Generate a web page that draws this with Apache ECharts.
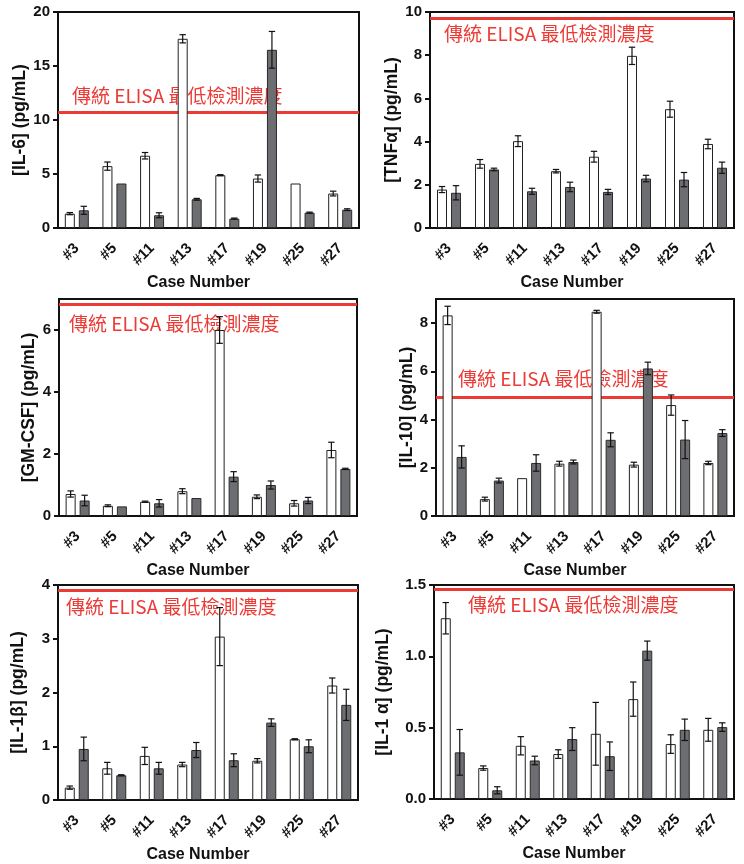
<!DOCTYPE html>
<html>
<head>
<meta charset="utf-8">
<script src="https://cdn.jsdelivr.net/npm/echarts@6/dist/echarts.min.js"></script>
<style>
  html, body { margin: 0; padding: 0; background: #fff; }
  #chart { width: 744px; height: 864px; }
</style>
</head>
<body>
<div id="chart"></div>
<script>
// Sample IDs shared by every panel
const cases = ['#3', '#5', '#11', '#13', '#17', '#19', '#25', '#27'];
const limitText = '傳統 ELISA 最低檢測濃度';

// IL-6 (pg/mL): open bars, filled bars, error half-widths, ELISA limit
const il6Open       = [1.33, 5.73, 6.69, 17.52, 4.89, 4.58, 4.12, 3.19];
const il6OpenErr    = [0.10, 0.38, 0.30, 0.38, 0.05, 0.33, 0, 0.22];
const il6Filled     = [1.64, 4.12, 1.18, 2.66, 0.87, 16.5, 1.42, 1.70];
const il6FilledErr  = [0.37, 0, 0.23, 0.08, 0.05, 1.70, 0.05, 0.08];
const il6Limit = 10.72;

// TNFα (pg/mL)
const tnfOpen       = [1.78, 2.97, 4.02, 2.63, 3.30, 7.97, 5.50, 3.89];
const tnfOpenErr    = [0.14, 0.20, 0.25, 0.08, 0.25, 0.40, 0.37, 0.22];
const tnfFilled     = [1.63, 2.71, 1.70, 1.90, 1.67, 2.29, 2.24, 2.79];
const tnfFilledErr  = [0.33, 0.06, 0.14, 0.22, 0.12, 0.15, 0.33, 0.26];
const tnfLimit = 9.69;

// GM-CSF (pg/mL)
const gmOpen        = [0.71, 0.33, 0.46, 0.80, 6.00, 0.62, 0.41, 2.13];
const gmOpenErr     = [0.10, 0.03, 0.02, 0.08, 0.43, 0.06, 0.09, 0.25];
const gmFilled      = [0.50, 0.31, 0.41, 0.58, 1.27, 1.00, 0.50, 1.52];
const gmFilledErr   = [0.17, 0, 0.12, 0, 0.16, 0.13, 0.10, 0.02];
const gmLimit = 6.82;

// IL-10 (pg/mL)
const il10Open      = [8.32, 0.70, 1.57, 2.17, 8.47, 2.13, 4.60, 2.20];
const il10OpenErr   = [0.38, 0.08, 0, 0.10, 0.06, 0.10, 0.42, 0.07];
const il10Filled    = [2.45, 1.47, 2.20, 2.24, 3.16, 6.12, 3.17, 3.44];
const il10FilledErr = [0.46, 0.10, 0.34, 0.08, 0.29, 0.26, 0.79, 0.14];
const il10Limit = 4.94;

// IL-1β (pg/mL)
const il1bOpen      = [0.23, 0.59, 0.82, 0.66, 3.04, 0.73, 1.13, 2.13];
const il1bOpenErr   = [0.03, 0.11, 0.16, 0.04, 0.54, 0.04, 0.01, 0.14];
const il1bFilled    = [0.95, 0.46, 0.59, 0.93, 0.74, 1.44, 1.00, 1.77];
const il1bFilledErr = [0.22, 0.01, 0.11, 0.14, 0.12, 0.07, 0.12, 0.29];
const il1bLimit = 3.91;

// IL-1α (pg/mL)
const il1aOpen      = [1.267, 0.217, 0.373, 0.315, 0.457, 0.70, 0.385, 0.485];
const il1aOpenErr   = [0.11, 0.015, 0.064, 0.03, 0.22, 0.12, 0.065, 0.08];
const il1aFilled    = [0.327, 0.061, 0.27, 0.42, 0.30, 1.04, 0.485, 0.504];
const il1aFilledErr = [0.16, 0.025, 0.03, 0.08, 0.10, 0.067, 0.075, 0.03];
const il1aLimit = 1.465;

// Panel layout and axis settings
const panels = [
  { title: '[IL-6] (pg/mL)', open: il6Open, openErr: il6OpenErr, filled: il6Filled, filledErr: il6FilledErr, limit: il6Limit,
    max: 20, interval: 5, grid: { left: 58, top: 12, width: 301, height: 216 }, nameGap: 26,
    labelPos: 'insideStartTop', labelDist: [14, 6.5] },
  { title: '[TNFα] (pg/mL)', open: tnfOpen, openErr: tnfOpenErr, filled: tnfFilled, filledErr: tnfFilledErr, limit: tnfLimit,
    max: 10, interval: 2, grid: { left: 430, top: 12, width: 304, height: 216 }, nameGap: 23,
    labelPos: 'insideStartBottom', labelDist: [14, 5.5] },
  { title: '[GM-CSF] (pg/mL)', open: gmOpen, openErr: gmOpenErr, filled: gmFilled, filledErr: gmFilledErr, limit: gmLimit,
    max: 7, interval: 2, grid: { left: 59, top: 299, width: 298, height: 217 }, nameGap: 21,
    labelPos: 'insideStartBottom', labelDist: [10, 9.5] },
  { title: '[IL-10] (pg/mL)', open: il10Open, openErr: il10OpenErr, filled: il10Filled, filledErr: il10FilledErr, limit: il10Limit,
    max: 9, interval: 2, grid: { left: 436, top: 299, width: 298, height: 217 }, nameGap: 19,
    labelPos: 'insideStartTop', labelDist: [22, 8.5] },
  { title: '[IL-1β] (pg/mL)', open: il1bOpen, openErr: il1bOpenErr, filled: il1bFilled, filledErr: il1bFilledErr, limit: il1bLimit,
    max: 4, interval: 1, grid: { left: 58, top: 585, width: 300, height: 215 }, nameGap: 31,
    labelPos: 'insideStartBottom', labelDist: [8, 7.5] },
  { title: '[IL-1 α] (pg/mL)', open: il1aOpen, openErr: il1aOpenErr, filled: il1aFilled, filledErr: il1aFilledErr, limit: il1aLimit,
    max: 1.5, interval: 0.5, grid: { left: 434, top: 585, width: 300, height: 214 }, nameGap: 42, decimals: 1,
    labelPos: 'insideStartBottom', labelDist: [34, 6.5] }
];

const AXIS_FONT = '"Liberation Sans", Arial, sans-serif';
const INK = '#111';
const RED = '#ec3a35';
const BAR_W = 10;
const BAR_GAP = 4;
const HALF_STEP = (BAR_W + BAR_GAP) / 2;

// Vertical error bar with caps, drawn beside the matching bar
function errorBars(idx, means, errs, side) {
  return {
    type: 'custom',
    xAxisIndex: idx,
    yAxisIndex: idx,
    z: 5,
    silent: true,
    encode: { x: 0, y: 1 },
    data: means.map((m, i) => [i, m, errs[i]]),
    renderItem(params, api) {
      const i = api.value(0), m = api.value(1), e = api.value(2);
      if (!e) return null;
      const hi = api.coord([i, m + e]);
      const lo = api.coord([i, m - e]);
      const x = hi[0] + side * HALF_STEP;
      const cap = 3.2;
      const st = { stroke: INK, lineWidth: 1.2 };
      return {
        type: 'group',
        children: [
          { type: 'line', shape: { x1: x, y1: hi[1], x2: x, y2: lo[1] }, style: st },
          { type: 'line', shape: { x1: x - cap, y1: hi[1], x2: x + cap, y2: hi[1] }, style: st },
          { type: 'line', shape: { x1: x - cap, y1: lo[1], x2: x + cap, y2: lo[1] }, style: st }
        ]
      };
    }
  };
}

const grids = [], xAxes = [], yAxes = [], series = [];

panels.forEach((p, idx) => {
  grids.push(Object.assign({
    show: true, borderColor: INK, borderWidth: 2, backgroundColor: 'transparent', containLabel: false
  }, p.grid));

  xAxes.push({
    type: 'category', gridIndex: idx, data: cases,
    name: 'Case Number', nameLocation: 'middle', nameGap: 47,
    nameTextStyle: { fontFamily: AXIS_FONT, fontWeight: 'bold', fontSize: 16, color: INK, padding: [0, 20, 0, 0] },
    axisLine: { lineStyle: { color: INK, width: 2 } },
    axisTick: { alignWithLabel: true, length: 6, lineStyle: { color: INK, width: 2 } },
    axisLabel: { rotate: 45, margin: 18, fontFamily: AXIS_FONT, fontWeight: 'bold', fontSize: 15, color: INK },
    splitLine: { show: false }
  });

  const ticks = [];
  for (let v = 0; v <= p.max + 1e-9; v += p.interval) ticks.push(+v.toFixed(3));

  yAxes.push({
    type: 'value', gridIndex: idx, min: 0, max: p.max, interval: p.interval,
    name: p.title, nameLocation: 'middle', nameGap: p.nameGap, nameRotate: 90,
    nameTextStyle: { fontFamily: AXIS_FONT, fontWeight: 'bold', fontSize: 17.5, color: INK },
    axisLine: { show: true, lineStyle: { color: INK, width: 2 } },
    axisTick: { show: true, length: 5, lineStyle: { color: INK, width: 2 }, customValues: ticks },
    axisLabel: {
      margin: 8, fontFamily: AXIS_FONT, fontWeight: 'bold', fontSize: 15, color: INK, customValues: ticks,
      formatter: v => p.decimals ? v.toFixed(p.decimals) : String(v)
    },
    splitLine: { show: false }
  });

  series.push({
    type: 'bar', xAxisIndex: idx, yAxisIndex: idx, data: p.open, z: 3,
    barWidth: BAR_W, barGap: (BAR_GAP / BAR_W * 100) + '%',
    itemStyle: { color: '#ffffff', borderColor: '#222', borderWidth: 1 },
    silent: true
  });
  series.push({
    type: 'bar', xAxisIndex: idx, yAxisIndex: idx, data: p.filled, z: 3,
    barWidth: BAR_W, barGap: (BAR_GAP / BAR_W * 100) + '%',
    itemStyle: { color: '#6d6e72', borderColor: '#2a2a2a', borderWidth: 1 },
    silent: true,
    // detection limit line sits underneath the bars
    markLine: {
      silent: true, symbol: 'none', animation: false, z: 1,
      lineStyle: { color: RED, width: 3, type: 'solid' },
      label: {
        show: true, formatter: limitText, position: p.labelPos, distance: p.labelDist,
        color: RED, fontSize: 19, fontFamily: '"Noto Sans CJK TC", "Noto Sans", sans-serif'
      },
      data: [{ yAxis: p.limit }]
    }
  });
  series.push(errorBars(idx, p.open, p.openErr, -1));
  series.push(errorBars(idx, p.filled, p.filledErr, 1));
});

const chart = echarts.init(document.getElementById('chart'), null, { renderer: 'canvas' });
chart.setOption({
  backgroundColor: '#fff',
  animation: false,
  grid: grids,
  xAxis: xAxes,
  yAxis: yAxes,
  series: series
});
</script>
</body>
</html>
